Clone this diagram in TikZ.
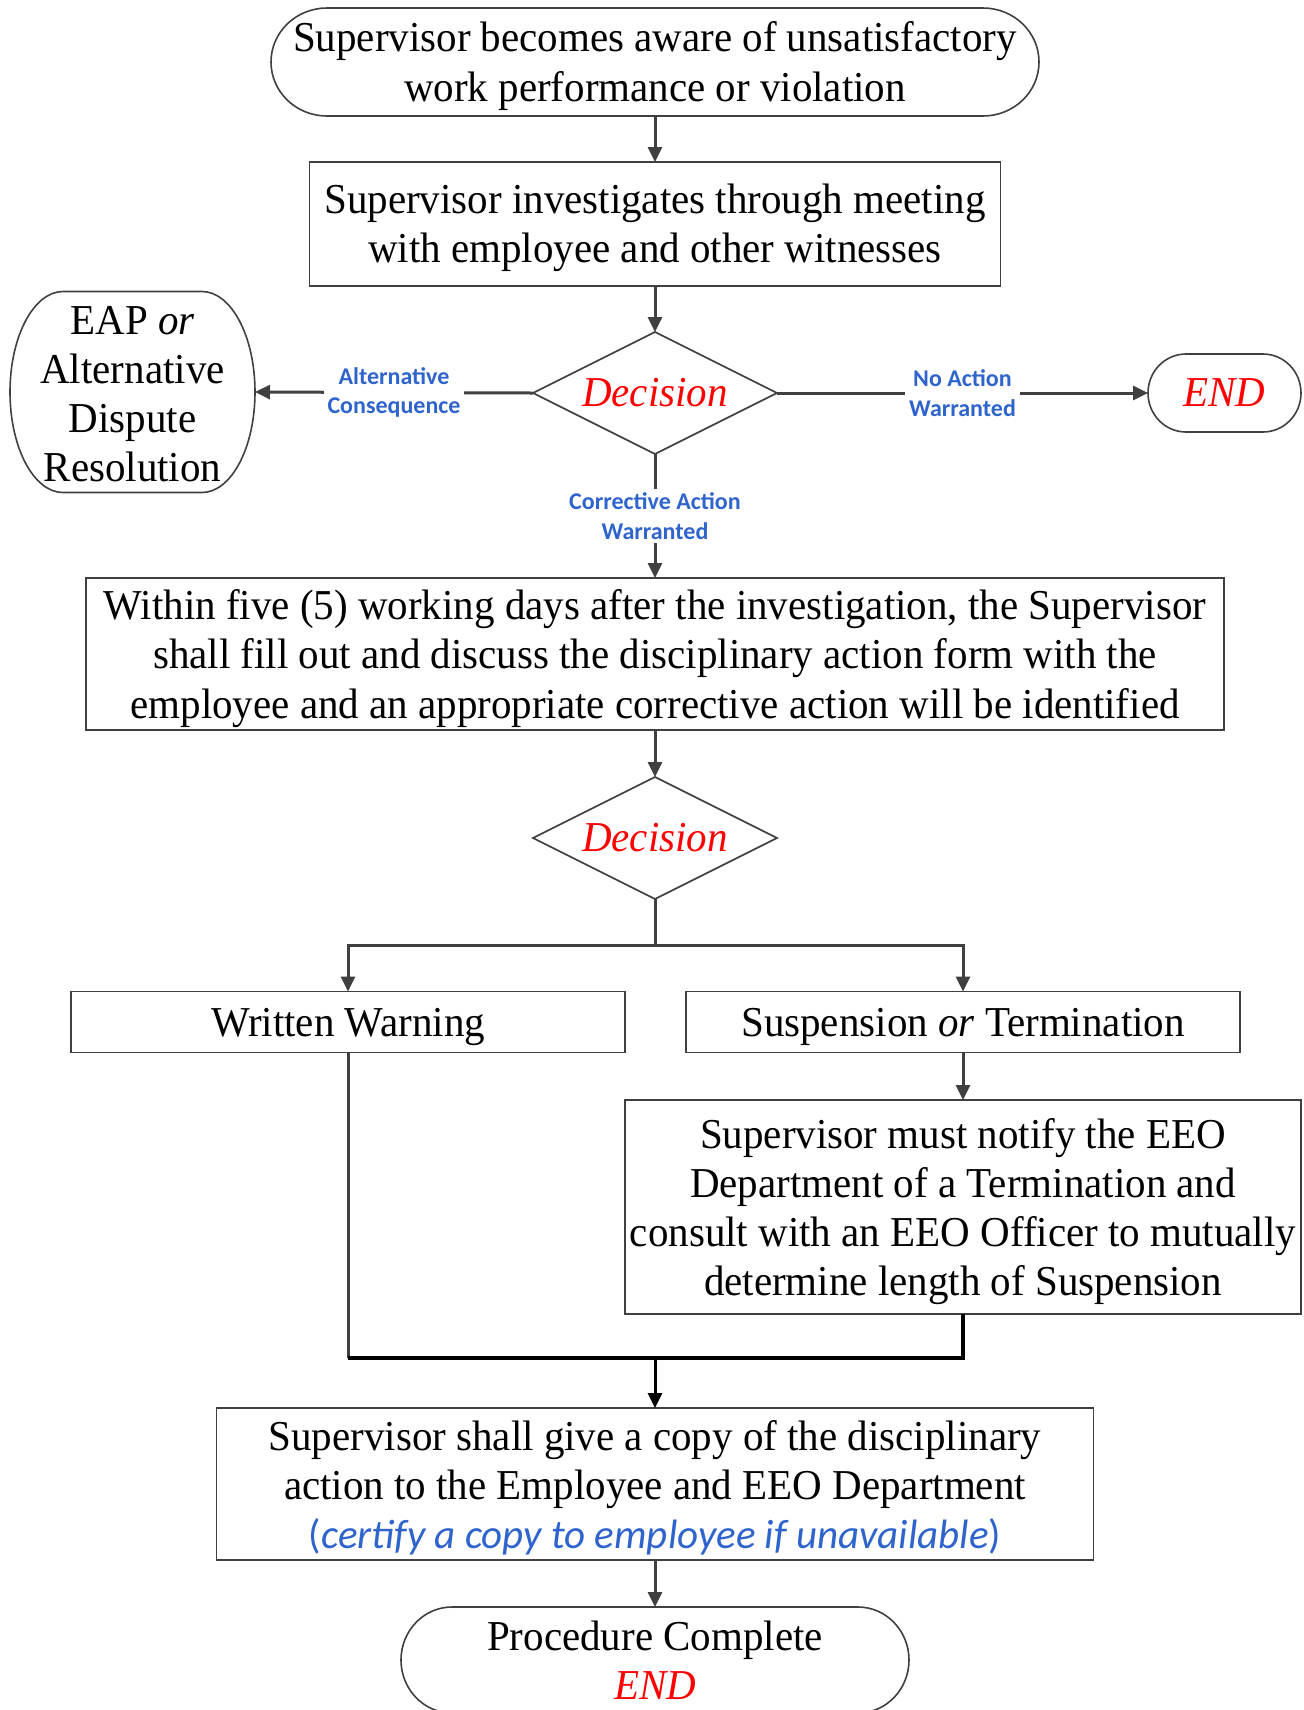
\documentclass[tikz,border=0pt]{standalone}
\usepackage{fontspec}
\setmainfont{Liberation Serif}[FakeStretch=0.962]
\newfontfamily\lblfont{Carlito}
\usetikzlibrary{shapes.geometric,arrows.meta}
\definecolor{lineg}{RGB}{64,64,64}
\definecolor{lblblue}{RGB}{47,100,205}
\definecolor{decred}{RGB}{255,0,0}
% center x, center y, half width, half height, corner x radius
\newcommand\termoutline[5]{%
  \draw[draw=lineg,line width=0.8pt] (#1-#3+#5,#2+#4) -- (#1+#3-#5,#2+#4)
    arc[start angle=90,end angle=-90,x radius=#5,y radius=#4]
    -- (#1-#3+#5,#2-#4)
    arc[start angle=270,end angle=90,x radius=#5,y radius=#4] -- cycle;}
\begin{document}
\begin{tikzpicture}[x=1pt,y=1pt,
  every node/.style={inner sep=0pt,outer sep=0pt},
  txt/.style={font=\fontsize{21.3}{24.6}\selectfont,align=center,inner sep=0pt},
  box/.style={rectangle,draw=lineg,line width=0.8pt},
  termbox/.style={rectangle,draw=none},
  dec/.style={diamond,aspect=2,draw=lineg,line width=0.8pt,minimum width=122pt,minimum height=61pt,font=\fontsize{21.3}{24}\selectfont\itshape,text=decred},
  lbl/.style={font=\lblfont\bfseries\fontsize{12}{14.7}\selectfont,text=lblblue,fill=white,align=center,inner sep=2pt},
  conn/.style={draw=lineg,line width=1.5pt,-{Triangle[length=7.5pt,width=7pt]}},
  plain/.style={draw=lineg,line width=1.5pt},
  mergeline/.style={draw=black,line width=1.7pt},
]
\useasboundingbox (0,0) rectangle (652,-855);
\fill[white] (0,0) rectangle (652,-855);

% top terminal
\node[termbox,minimum width=384pt,minimum height=54pt,
  label={[txt,yshift=-2pt]center:{Supervisor becomes aware of unsatisfactory\\work performance or violation}}] (T) at (327.5,-31) {};
\termoutline{327.5}{-31}{192}{27}{28}

\node[box,minimum width=345.5pt,minimum height=62pt,
  label={[txt,yshift=-2pt]center:{Supervisor investigates through meeting\\with employee and other witnesses}}] (B2) at (327.5,-112) {};

\node[dec] (D1) at (327.5,-196.5) {Decision};

\node[termbox,minimum width=122.5pt,minimum height=100.5pt,
  label={[txt,yshift=-1pt]center:{EAP \textit{or}\\Alternative\\Dispute\\Resolution}}] (EAP) at (66.25,-196) {};
\termoutline{66.25}{-196}{61.25}{50.25}{26.5}

\node[termbox,minimum width=76.5pt,minimum height=39pt,
  label={[txt,font=\fontsize{21.3}{24}\selectfont\itshape,text=decred]center:END}] (E1) at (612.25,-196.5) {};
\termoutline{612.25}{-196.5}{38.25}{19.5}{19}

\node[box,minimum width=569pt,minimum height=76pt,
  label={[txt,yshift=-2.2pt]center:{Within five (5) working days after the investigation, the Supervisor\\shall fill out and discuss the disciplinary action form with the\\employee and an appropriate corrective action will be identified}}] (B3) at (327.5,-327) {};

\node[dec] (D2) at (327.5,-419) {Decision};

\node[box,minimum width=277pt,minimum height=30.5pt,
  label={[txt,yshift=-2.4pt]center:Written Warning}] (WW) at (174,-511) {};
\node[box,minimum width=277pt,minimum height=30.5pt,
  label={[txt,yshift=-2.4pt]center:{Suspension \textit{or} Termination}}] (SUS) at (481.5,-511) {};

\node[box,minimum width=338pt,minimum height=107pt,
  label={[txt,yshift=-2.2pt]center:{Supervisor must notify the EEO\\Department of a Termination and\\consult with an EEO Officer to mutually\\determine length of Suspension}}] (EEO) at (481.5,-603.5) {};

\node[box,minimum width=438.5pt,minimum height=76pt,
  label={[txt,yshift=-1.8pt]center:{Supervisor shall give a copy of the disciplinary\\action to the Employee and EEO Department\\{\lblfont\fontsize{20.5}{24.6}\selectfont\color{lblblue}({\itshape certify a copy to employee if unavailable})}}}] (GIVE) at (327.5,-742) {};

\node[termbox,minimum width=254pt,minimum height=53pt,
  label={[txt]center:{Procedure Complete\\{\itshape\color{decred}END}}}] (PROC) at (327.5,-830) {};
\termoutline{327.5}{-830}{127}{26.5}{25.5}

% connectors
\draw[conn] (T) -- (B2);
\draw[conn] (B2) -- (D1);
\draw[conn] (D1.west) -- (EAP.east) node[lbl,midway] (L1) {Alternative\\Consequence};
\draw[conn] (D1.east) -- (E1.west) node[lbl,midway] (L2) {No Action\\Warranted};
\draw[conn] (D1.south) -- (B3.north) node[lbl,midway] (L3) {Corrective Action\\Warranted};
\draw[conn] (B3) -- (D2);
\coordinate (sp) at (327.5,-472.5);
\draw[plain] (D2.south) -- (sp);
\draw[conn] (sp) -| (WW.north);
\draw[conn] (sp) -| (SUS.north);
\draw[conn] (SUS) -- (EEO);
\coordinate (mg) at (327.5,-679);
\draw[plain] (WW.south) -- (WW.south |- mg);
\draw[mergeline] (WW.south |- mg) -- (mg);
\draw[mergeline] (EEO.south) |- (mg);
\draw[conn,draw=black] (mg) -- (GIVE.north);
\draw[conn] (GIVE) -- (PROC);
\end{tikzpicture}
\end{document}
